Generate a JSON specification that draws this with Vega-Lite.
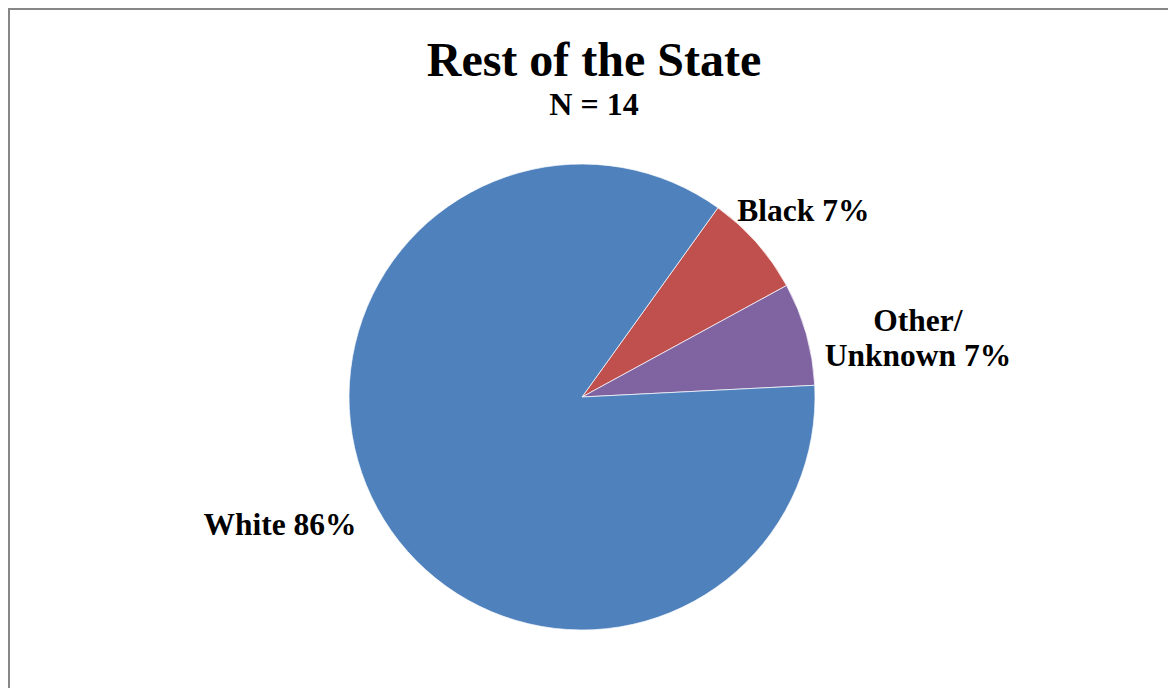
{
  "$schema": "https://vega.github.io/schema/vega-lite/v6.json",
  "autosize": "none",
  "padding": {"left": 9, "top": 9, "right": 0, "bottom": 0},
  "width": 1160,
  "height": 776,
  "background": "#ffffff",
  "view": {"stroke": "#878787", "strokeWidth": 2, "fill": "#ffffff"},
  "title": {
    "text": "Rest of the State",
    "subtitle": "N = 14",
    "anchor": "middle",
    "orient": "top",
    "frame": "group",
    "font": "Liberation Serif",
    "fontSize": 48,
    "fontWeight": "bold",
    "color": "#000000",
    "subtitleFont": "Liberation Serif",
    "subtitleFontSize": 32,
    "subtitleFontWeight": "bold",
    "subtitleColor": "#000000",
    "subtitlePadding": 4,
    "dx": 5,
    "dy": 116
  },
  "data": {
    "values": [
      {"cat": "Black", "label": "Black 7%", "n": 1, "ord": 1},
      {"cat": "Other/Unknown", "label": "Other/\nUnknown 7%", "n": 1, "ord": 2},
      {"cat": "White", "label": "White 86%", "n": 12, "ord": 3}
    ]
  },
  "encoding": {
    "theta": {"field": "n", "type": "quantitative", "stack": true, "scale": {"range": [0.623, 6.906]}},
    "order": {"field": "ord", "type": "quantitative", "sort": "ascending"}
  },
  "layer": [
    {
      "mark": {"type": "arc", "outerRadius": 233, "stroke": "#ffffff", "strokeWidth": 1, "strokeOpacity": 0.7, "xOffset": -7},
      "encoding": {
        "color": {
          "field": "cat",
          "type": "nominal",
          "scale": {"domain": ["White", "Black", "Other/Unknown"], "range": ["#4F81BD", "#C0504D", "#8064A2"]},
          "legend": null
        }
      }
    },
    {
      "mark": {
        "type": "text",
        "font": "Liberation Serif",
        "fontSize": 31.5,
        "fontWeight": "bold",
        "color": "#000000",
        "align": "center",
        "baseline": "middle",
        "lineBreak": "\n",
        "lineHeight": 35,
        "xOffset": -7,
        "radius": {"expr": "datum.cat === 'White' ? 344 : datum.cat === 'Black' ? 290 : 349"},
        "dx": {"expr": "datum.cat === 'Black' ? 4 : 0"},
        "dy": {"expr": "datum.cat === 'White' ? -36 : datum.cat === 'Black' ? 7 : 20"}
      },
      "encoding": {
        "text": {"field": "label", "type": "nominal"}
      }
    }
  ]
}
